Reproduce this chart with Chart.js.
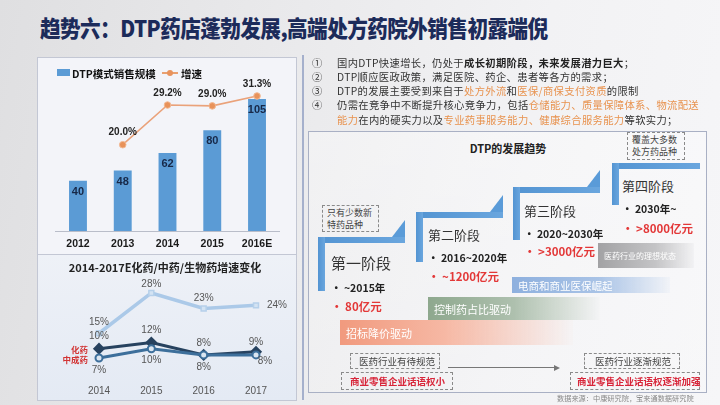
<!DOCTYPE html>
<html><head><meta charset="utf-8">
<script src="https://cdn.jsdelivr.net/npm/chart.js@4.4.1/dist/chart.umd.min.js"></script>
<style>
*{margin:0;padding:0;box-sizing:border-box}
body{width:720px;height:405px;overflow:hidden;position:relative;font-family:"Noto Sans CJK SC","Noto Sans",sans-serif;background:linear-gradient(100deg,#dfdfe1 0%,#e9e9eb 35%,#f2f2f4 70%,#f6f6f8 100%)}
.abs{position:absolute;white-space:nowrap}
.mid{transform:translateY(-50%)}
.title{left:40px;top:27px;font-size:22.5px;font-weight:900;color:#1c2b5a;letter-spacing:-0.6px;transform:translateY(-50%) scaleX(0.915);transform-origin:0 50%}
.panel{position:absolute;border:1px solid #c3c7d4}
.rt{font-size:10.3px;color:#333;left:312px;letter-spacing:0.35px}
.rt .n{display:inline-block;width:25px}
.or{color:#e8924e}
.b{font-weight:700;color:#222}
.stg{background:linear-gradient(90deg,#5394d2,#6aa6de)}
.tri{position:absolute;width:0;height:0;border-left:13px solid transparent;border-bottom:17px solid #5a9bd8}
.dash{position:absolute;border:1px dashed #8a8a8a;font-size:9px;color:#444;line-height:12px;padding:1px 0 0 4px;white-space:nowrap}
.sn{font-size:13px;color:#333}
.bl{font-size:10.5px;font-weight:700;color:#222}
.rd{font-size:11.5px;font-weight:700;color:#e33838}
.gb{position:absolute;color:#fff;padding-left:6px;white-space:nowrap;display:flex;align-items:center}
</style></head>
<body>
<div class="abs title">趋势六：DTP药店蓬勃发展,高端处方药院外销售初露端倪</div>

<div class="panel" style="left:37px;top:57px;width:260px;height:198px;background:#f3f4f9"></div>
<div class="panel" style="left:37px;top:254px;width:260px;height:147px;background:linear-gradient(180deg,#eef1f7,#e4eaf4)"></div>

<canvas id="c1" width="258" height="195" style="position:absolute;left:37px;top:57px;width:258px;height:195px"></canvas>
<canvas id="c2" width="263" height="142" style="position:absolute;left:37px;top:258px;width:263px;height:142px"></canvas>

<!-- legend top chart -->
<div class="abs" style="left:57px;top:69px;width:13px;height:7px;background:#5b9bd5"></div>
<div class="abs mid" style="left:72px;top:73px;font-size:10.5px;font-weight:700;color:#111">DTP模式销售规模</div>
<div class="abs" style="left:162px;top:72px;width:16px;height:1.5px;background:#e9a070"></div>
<div class="abs" style="left:167px;top:70px;width:6px;height:6px;border-radius:50%;background:#e8935c"></div>
<div class="abs mid" style="left:181px;top:73px;font-size:10.5px;font-weight:700;color:#111">增速</div>

<div class="abs mid" style="left:165px;top:267px;transform:translate(-50%,-50%);font-size:11px;font-weight:700;color:#222">2014-2017E化药/中药/生物药增速变化</div>
<div class="abs" style="right:632px;top:349px;transform:translateY(-50%);font-size:8.5px;font-weight:700;color:#d23434">化药</div>
<div class="abs" style="right:632px;top:359px;transform:translateY(-50%);font-size:8.5px;font-weight:700;color:#d23434">中成药</div>

<!-- right side -->
<div class="abs" style="left:302px;top:55px;width:1.5px;height:345px;background:#a5b0cc"></div>
<div class="abs rt mid" style="top:62px"><span class="n">①</span>国内DTP快速增长，仍处于<span class="b">成长初期阶段，未来发展潜力巨大</span>；</div>
<div class="abs rt mid" style="top:76px"><span class="n">②</span>DTP顺应医政政策，满足医院、药企、患者等各方的需求；</div>
<div class="abs rt mid" style="top:90px"><span class="n">③</span>DTP的发展主要受到来自于<span class="or">处方外流</span>和<span class="or">医保/商保支付资质</span>的限制</div>
<div class="abs rt mid" style="top:104px"><span class="n">④</span>仍需在竞争中不断提升核心竞争力，包括<span class="or">仓储能力、质量保障体系、物流配送</span></div>
<div class="abs rt mid" style="top:119px;left:337px"><span class="or">能力</span>在内的硬实力以及<span class="or">专业药事服务能力、健康综合服务能力</span>等软实力；</div>

<div class="panel" style="left:308px;top:131px;width:399px;height:262px;background:linear-gradient(180deg,rgba(255,255,255,0.35),rgba(255,255,255,0.15));border-color:#a9b0c4"></div>
<div class="abs" style="left:508px;top:148px;transform:translate(-50%,-50%);font-size:11px;font-weight:700;color:#222">DTP的发展趋势</div>

<div class="dash" style="left:322px;top:205px;width:57px;height:27px">只有少数新<br>特药品种</div>
<div class="dash" style="left:627px;top:132px;width:58px;height:28px">覆盖大多数<br>处方药品种</div>

<!-- stage L shapes -->
<div class="abs stg" style="left:318px;top:237px;width:87px;height:6px"></div>
<div class="abs stg" style="left:318px;top:237px;width:7px;height:54px"></div>
<div class="tri" style="left:392px;top:220px"></div>
<div class="abs stg" style="left:416px;top:212px;width:87px;height:6px"></div>
<div class="abs stg" style="left:416px;top:212px;width:7px;height:50px"></div>
<div class="tri" style="left:490px;top:195px"></div>
<div class="abs stg" style="left:513px;top:187px;width:87px;height:6px"></div>
<div class="abs stg" style="left:513px;top:187px;width:7px;height:53px"></div>
<div class="tri" style="left:587px;top:170px"></div>
<div class="abs stg" style="left:612px;top:163px;width:88px;height:6px"></div>
<div class="abs stg" style="left:612px;top:163px;width:7px;height:42px"></div>

<div class="abs sn mid" style="left:331px;top:262px;font-size:15px">第一阶段</div>
<div class="abs bl mid" style="left:331px;top:287px">• ~2015年</div>
<div class="abs rd mid" style="left:331px;top:306px">• 80亿元</div>
<div class="abs sn mid" style="left:428px;top:234px">第二阶段</div>
<div class="abs bl mid" style="left:428px;top:257px">• 2016~2020年</div>
<div class="abs rd mid" style="left:428px;top:276px">• ~1200亿元</div>
<div class="abs sn mid" style="left:524px;top:210px">第三阶段</div>
<div class="abs bl mid" style="left:524px;top:233px">• 2020~2030年</div>
<div class="abs rd mid" style="left:524px;top:251px">• >3000亿元</div>
<div class="abs sn mid" style="left:622px;top:185px">第四阶段</div>
<div class="abs bl mid" style="left:622px;top:208px">• 2030年~</div>
<div class="abs rd mid" style="left:622px;top:228px">• >8000亿元</div>

<!-- gradient driver bars -->
<div class="gb" style="left:598px;top:243px;width:96px;height:25px;font-size:8px;background:linear-gradient(90deg,#a2a2a4,#c4c4c6 60%,rgba(230,230,232,0.3))">医药行业的理想状态</div>
<div class="gb" style="left:512px;top:277px;width:158px;height:16px;font-size:10.5px;background:linear-gradient(90deg,#8eb0de,#a9c3e6 55%,rgba(220,230,245,0.2))">电商和商业医保崛起</div>
<div class="gb" style="left:428px;top:297px;width:172px;height:23px;font-size:11px;background:linear-gradient(90deg,#8ea88e,#aec0ae 50%,rgba(230,235,232,0.1))">控制药占比驱动</div>
<div class="gb" style="left:340px;top:320px;width:233px;height:25px;font-size:11px;background:linear-gradient(90deg,#f19a7e,#f6b8a4 45%,rgba(250,230,225,0.1))">招标降价驱动</div>

<div class="dash" style="left:350px;top:353px;width:90px;height:16px;font-size:9.5px;padding:1px 0 0 8px">医药行业有待规范</div>
<div class="dash" style="left:341px;top:372px;width:112px;height:18px;font-size:9.5px;font-weight:700;color:#d8263a;padding:2px 0 0 8px">商业零售企业话语权小</div>
<div class="abs" style="left:448px;top:367px;width:108px;height:1px;background:#777"></div>
<div class="abs" style="left:554px;top:364.5px;width:0;height:0;border-top:3px solid transparent;border-bottom:3px solid transparent;border-left:6px solid #777"></div>
<div class="dash" style="left:584px;top:353px;width:96px;height:16px;font-size:9.5px;padding:1px 0 0 10px">医药行业逐渐规范</div>
<div class="dash" style="left:570px;top:372px;width:130px;height:18px;font-size:9.5px;font-weight:700;color:#d8263a;padding:2px 0 0 6px">商业零售企业话语权逐渐加强</div>
<div class="abs mid" style="left:557px;top:398px;font-size:7.2px;color:#8a8a8a">数据来源：中康研究院，宝来通数据研究院</div>

<script>
// ---- data: top chart ----
const years = ['2012', '2013', '2014', '2015', '2016E'];
const salesScale = [40, 48, 62, 80, 105];
const growthRate = [null, 20.0, 29.2, 29.0, 31.3];
// ---- data: bottom chart ----
const years2 = ['2014', '2015', '2016', '2017'];
const bioGrowth = [15, 28, 23, 24];
const chemGrowth = [10, 12, 8, 9];
const tcmGrowth = [7, 10, 8, 8];

function makeLabelPlugin(cfgs) {
  return {
    id: 'valueLabels',
    afterDatasetsDraw(chart) {
      const ctx = chart.ctx;
      chart.data.datasets.forEach((ds, i) => {
        const cfg = cfgs[i]; if (!cfg) return;
        const meta = chart.getDatasetMeta(i);
        meta.data.forEach((el, j) => {
          const v = ds.data[j]; if (v == null) return;
          const off = cfg.offsets ? cfg.offsets[j] : cfg.offset;
          ctx.save();
          ctx.font = cfg.font; ctx.fillStyle = cfg.color;
          ctx.textAlign = 'center';
          ctx.textBaseline = 'middle';
          ctx.fillText(cfg.format(v), el.x + off[0], el.y + off[1]);
          ctx.restore();
        });
      });
    }
  };
}

new Chart(document.getElementById('c1'), {
  data: {
    labels: years,
    datasets: [
      { type: 'line', label: '增速', data: growthRate, yAxisID: 'y1', order: 1,
        borderColor: '#eaa27a', borderWidth: 1.6, pointRadius: 3.3, pointBackgroundColor: '#e8925a',
        pointBorderColor: '#f2b994', pointBorderWidth: 1, tension: 0, spanGaps: true },
      { type: 'bar', label: 'DTP模式销售规模', data: salesScale, yAxisID: 'y', order: 2,
        backgroundColor: '#5b9bd5', barPercentage: 0.4, categoryPercentage: 1 }
    ]
  },
  options: {
    responsive: false, animation: false, devicePixelRatio: 1,
    layout: { padding: { left: 18.6, right: 15.6, top: 23, bottom: 0 } },
    plugins: { legend: { display: false }, tooltip: { enabled: false } },
    scales: {
      x: { grid: { display: false, drawTicks: false }, border: { display: true, color: '#b9bdc9' },
           ticks: { color: '#1a1a1a', padding: 7, font: { family: 'Liberation Sans', size: 10.5, weight: 'bold' } },
           afterFit: s => { s.height = 21; } },
      y: { display: false, min: 0, max: 120 },
      y1: { display: false, min: 0, max: 35, position: 'right' }
    }
  },
  plugins: [makeLabelPlugin([
    { offset: [0, -12], font: 'bold 10px "Liberation Sans"', color: '#222', format: v => v.toFixed(1) + '%' },
    { offset: [0, 11], font: 'bold 11px "Liberation Sans"', color: '#172848', format: v => String(v) }
  ])]
});

new Chart(document.getElementById('c2'), {
  type: 'line',
  data: {
    labels: years2,
    datasets: [
      { label: '生物药', data: bioGrowth, borderColor: '#abc9e8', borderWidth: 3.5, tension: 0,
        pointStyle: 'rect', pointRadius: 3.5, pointBackgroundColor: '#d3e3f3', pointBorderColor: '#b6d0ea', pointBorderWidth: 1.5 },
      { label: '中成药', data: tcmGrowth, borderColor: '#3d6f9b', borderWidth: 3, tension: 0,
        pointStyle: 'circle', pointRadius: 3.5, pointBackgroundColor: '#dbe6f1', pointBorderColor: '#3d6f9b', pointBorderWidth: 2 },
      { label: '化药', data: chemGrowth, borderColor: '#27425f', borderWidth: 3, tension: 0,
        pointStyle: 'rectRot', pointRadius: 4, pointBackgroundColor: '#27425f', pointBorderColor: '#27425f' }
    ]
  },
  options: {
    responsive: false, animation: false, devicePixelRatio: 1,
    layout: { padding: { left: 62, right: 44, top: 17, bottom: 0 } },
    plugins: { legend: { display: false }, tooltip: { enabled: false } },
    scales: {
      x: { offset: false, grid: { display: false, drawTicks: false }, border: { display: false },
           ticks: { color: '#555', padding: 3, font: { family: 'Liberation Sans', size: 10 } },
           afterFit: s => { s.height = 18; } },
      y: { display: false, min: -0.74, max: 33.8 }
    }
  },
  plugins: [makeLabelPlugin([
    { offsets: [[0, -11], [0, -9], [0, -10], [21, 0]], font: '10px "Liberation Sans"', color: '#555', format: v => v + '%' },
    { offsets: [[0, 12], [0, 12], [0, 12], [9, 6]], font: '10px "Liberation Sans"', color: '#555', format: v => v + '%' },
    { offsets: [[0, -12], [0, -12], [0, -12], [0, -10]], font: '10px "Liberation Sans"', color: '#555', format: v => v + '%' }
  ])]
});
</script>
</body></html>
